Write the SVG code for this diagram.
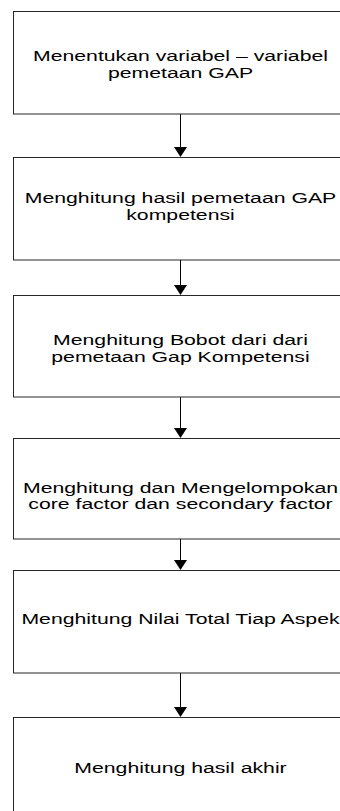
<svg xmlns="http://www.w3.org/2000/svg" width="340" height="811" viewBox="0 0 340 811">
  <defs>
    <style>
      .box { fill: #ffffff; stroke: #262626; stroke-width: 1; }
      .lbl { font-family: "Liberation Sans", Arial, sans-serif; font-size: 15.5px; fill: #000000; text-anchor: middle; }
      .edge { stroke: #000000; stroke-width: 1; fill: none; }
      .head { fill: #000000; }
    </style>
  </defs>
  <rect x="0" y="0" width="340" height="811" fill="#ffffff"/>

  <g id="connectors">
    <line class="edge" x1="180.5" y1="114" x2="180.5" y2="148"/>
    <polygon class="head" points="174,147 187,147 180.5,157"/>
    <line class="edge" x1="180.5" y1="260" x2="180.5" y2="286"/>
    <polygon class="head" points="174,285 187,285 180.5,295"/>
    <line class="edge" x1="180.5" y1="397" x2="180.5" y2="429"/>
    <polygon class="head" points="174,428 187,428 180.5,438"/>
    <line class="edge" x1="180.5" y1="539" x2="180.5" y2="561"/>
    <polygon class="head" points="174,560 187,560 180.5,570"/>
    <line class="edge" x1="180.5" y1="673" x2="180.5" y2="708"/>
    <polygon class="head" points="174,707 187,707 180.5,717"/>
  </g>

  <g id="step1">
    <rect class="box" x="13.5" y="11.5" width="340" height="102.5"/>
    <text class="lbl" transform="translate(180.5 61) scale(1.37 1)">Menentukan variabel – variabel</text>
    <text class="lbl" transform="translate(180.5 78) scale(1.37 1)">pemetaan GAP</text>
  </g>

  <g id="step2">
    <rect class="box" x="13.5" y="157.5" width="340" height="102.5"/>
    <text class="lbl" transform="translate(180.5 203) scale(1.37 1)">Menghitung hasil pemetaan GAP</text>
    <text class="lbl" transform="translate(180.5 220) scale(1.37 1)">kompetensi</text>
  </g>

  <g id="step3">
    <rect class="box" x="13.5" y="295.5" width="340" height="101.5"/>
    <text class="lbl" transform="translate(180.5 345) scale(1.37 1)">Menghitung Bobot dari dari</text>
    <text class="lbl" transform="translate(180.5 361.5) scale(1.37 1)">pemetaan Gap Kompetensi</text>
  </g>

  <g id="step4">
    <rect class="box" x="13.5" y="438.5" width="340" height="100.5"/>
    <text class="lbl" transform="translate(180.5 492.5) scale(1.37 1)">Menghitung dan Mengelompokan</text>
    <text class="lbl" transform="translate(180.5 508.5) scale(1.37 1)">core factor dan secondary factor</text>
  </g>

  <g id="step5">
    <rect class="box" x="13.5" y="570.5" width="340" height="102.5"/>
    <text class="lbl" transform="translate(180.5 624) scale(1.37 1)">Menghitung Nilai Total Tiap Aspek</text>
  </g>

  <g id="step6">
    <rect class="box" x="13.5" y="717.5" width="340" height="120"/>
    <text class="lbl" transform="translate(180.5 773) scale(1.37 1)">Menghitung hasil akhir</text>
  </g>
</svg>
